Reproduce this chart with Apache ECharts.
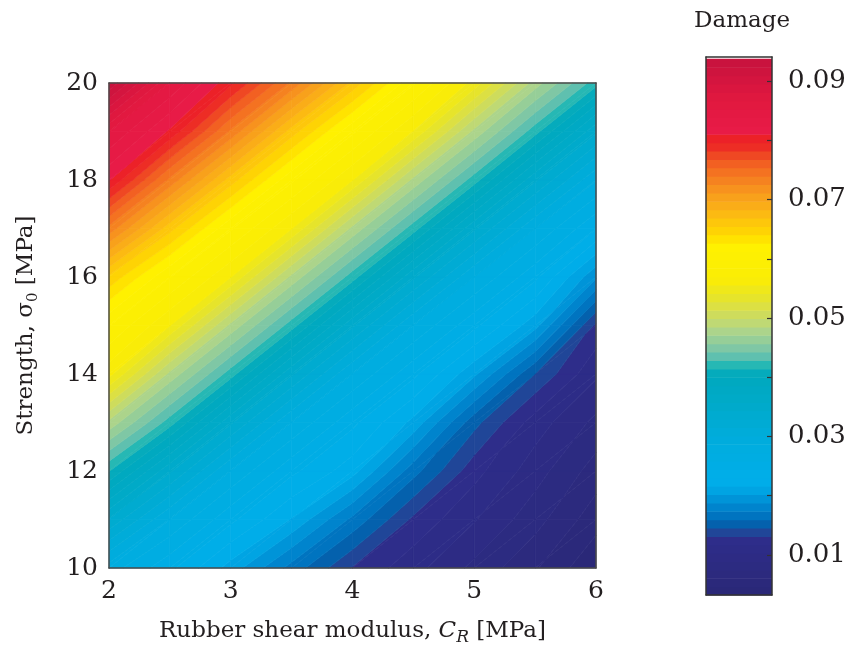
<!DOCTYPE html>
<html>
<head>
<meta charset="utf-8">
<script src="https://cdn.jsdelivr.net/npm/echarts@6/dist/echarts.min.js"></script>
<style>
  html, body { margin: 0; padding: 0; background: #ffffff; }
  #chart { width: 852px; height: 654px; }
</style>
</head>
<body>
<div id="chart"></div>
<script>
// Parameter grid: rubber shear modulus C_R [MPa] (columns) and strength sigma_0 [MPa] (rows)
const shearModulus = [2, 2.5, 3, 3.5, 4, 4.5, 5, 5.5, 6];
const strength = [10, 11, 12, 13, 14, 15, 16, 17, 18, 19, 20];

// Damage at every grid node, one array per strength level (columns follow shearModulus)
const damageS10 = [0.0280, 0.0248, 0.0210, 0.0168, 0.0130, 0.0108, 0.0085, 0.0062, 0.0034];
const damageS11 = [0.0342, 0.0286, 0.0248, 0.0215, 0.0170, 0.0128, 0.0104, 0.0080, 0.0052];
const damageS12 = [0.0415, 0.0346, 0.0286, 0.0248, 0.0222, 0.0165, 0.0122, 0.0095, 0.0068];
const damageS13 = [0.0481, 0.0421, 0.0346, 0.0286, 0.0248, 0.0212, 0.0150, 0.0110, 0.0085];
const damageS14 = [0.0561, 0.0481, 0.0421, 0.0346, 0.0286, 0.0248, 0.0205, 0.0145, 0.0105];
const damageS15 = [0.0599, 0.0556, 0.0481, 0.0421, 0.0346, 0.0286, 0.0248, 0.0207, 0.0128];
const damageS16 = [0.0652, 0.0599, 0.0556, 0.0481, 0.0421, 0.0346, 0.0287, 0.0248, 0.0190];
const damageS17 = [0.0735, 0.0660, 0.0600, 0.0556, 0.0481, 0.0421, 0.0346, 0.0287, 0.0245];
const damageS18 = [0.0812, 0.0736, 0.0662, 0.0601, 0.0556, 0.0481, 0.0421, 0.0346, 0.0288];
const damageS19 = [0.0854, 0.0808, 0.0737, 0.0662, 0.0601, 0.0555, 0.0481, 0.0420, 0.0346];
const damageS20 = [0.0936, 0.0852, 0.0800, 0.0737, 0.0665, 0.0600, 0.0550, 0.0478, 0.0420];
const damageRows = [damageS10, damageS11, damageS12, damageS13, damageS14, damageS15,
                    damageS16, damageS17, damageS18, damageS19, damageS20];

// Filled-contour levels and colour bar ticks
const levelMin = 0.0032;
const levelMax = 0.0938;
const levelCount = 64;
const barTickValues = [0.01, 0.02, 0.03, 0.04, 0.05, 0.06, 0.07, 0.08, 0.09];
const barLabelValues = [0.01, 0.03, 0.05, 0.07, 0.09];

// Colour map stops (damage value -> colour)
const cmapStops = [
  [0.0032, '#2a2877'], [0.0125, '#2e2d8a'], [0.0140, '#1e4a9a'], [0.0154, '#0064b0'],
  [0.0168, '#0076c2'], [0.0182, '#0086ce'], [0.0197, '#0096da'], [0.0211, '#00a6e4'],
  [0.0225, '#00aeea'], [0.0300, '#00acdc'], [0.0350, '#00aacb'], [0.0405, '#00a9bd'],
  [0.0420, '#20b7b4'], [0.0434, '#5cbfb0'], [0.0448, '#7cc6a6'], [0.0462, '#93cd9a'],
  [0.0476, '#a9d38e'], [0.0490, '#bdd878'], [0.0505, '#cddc5e'], [0.0520, '#dce044'],
  [0.0535, '#e6e42a'], [0.0550, '#f0e818'], [0.0565, '#faed05'], [0.0625, '#fff100'],
  [0.0639, '#ffdb00'], [0.0653, '#fecf06'], [0.0667, '#fdc20e'], [0.0682, '#fbb514'],
  [0.0696, '#f9a81a'], [0.0710, '#f89c1c'], [0.0724, '#f68c1f'], [0.0738, '#f57c20'],
  [0.0752, '#f36c21'], [0.0766, '#f15a22'], [0.0780, '#ee3e24'], [0.0795, '#ed2326'],
  [0.0809, '#ec1f2a'], [0.0816, '#e81b47'], [0.0870, '#e1183f'], [0.0938, '#c6123e']
];

const FONT = 'DejaVu Serif';
const TEXT = '#231f20';

function hexToRgb(h) {
  return [parseInt(h.slice(1, 3), 16), parseInt(h.slice(3, 5), 16), parseInt(h.slice(5, 7), 16)];
}
function cmap(v) {
  if (v <= cmapStops[0][0]) return cmapStops[0][1];
  for (let i = 1; i < cmapStops.length; i++) {
    if (v <= cmapStops[i][0]) {
      const a = cmapStops[i - 1], b = cmapStops[i];
      const t = (v - a[0]) / (b[0] - a[0]);
      const ca = hexToRgb(a[1]), cb = hexToRgb(b[1]);
      const c = ca.map((x, k) => Math.round(x + t * (cb[k] - x)));
      return 'rgb(' + c.join(',') + ')';
    }
  }
  return cmapStops[cmapStops.length - 1][1];
}

const levelStep = (levelMax - levelMin) / levelCount;
const levelEdges = [];
for (let k = 0; k <= levelCount; k++) levelEdges.push(levelMin + k * levelStep);
const bandColors = [];
for (let k = 0; k < levelCount; k++) bandColors.push(cmap(levelMin + (k + 0.5) * levelStep));

function bandOf(v) {
  const k = Math.floor((v - levelMin) / levelStep);
  return Math.max(0, Math.min(levelCount - 1, k));
}

// Sutherland-Hodgman clip of a polygon [x, y, value] against value >= / <= level
function clipPoly(poly, level, keepAbove) {
  const out = [];
  for (let i = 0; i < poly.length; i++) {
    const a = poly[i], b = poly[(i + 1) % poly.length];
    const ina = keepAbove ? a[2] >= level : a[2] <= level;
    const inb = keepAbove ? b[2] >= level : b[2] <= level;
    if (ina) out.push(a);
    if (ina !== inb) {
      const t = (level - a[2]) / (b[2] - a[2]);
      out.push([a[0] + t * (b[0] - a[0]), a[1] + t * (b[1] - a[1]), level]);
    }
  }
  return out;
}

// One data item per grid cell
const cellData = [];
for (let j = 0; j < strength.length - 1; j++) {
  for (let i = 0; i < shearModulus.length - 1; i++) cellData.push([i, j]);
}

function renderCell(params, api) {
  const i = api.value(0), j = api.value(1);
  const node = (ii, jj) => [shearModulus[ii], strength[jj], damageRows[jj][ii]];
  const p00 = node(i, j), p10 = node(i + 1, j), p11 = node(i + 1, j + 1), p01 = node(i, j + 1);
  const tris = [[p00, p10, p11], [p00, p11, p01]];
  const children = [];
  tris.forEach(tri => {
    const vals = tri.map(p => p[2]);
    const k0 = bandOf(Math.min.apply(null, vals));
    const k1 = bandOf(Math.max.apply(null, vals));
    for (let k = k0; k <= k1; k++) {
      const lo = k === 0 ? -Infinity : levelEdges[k];
      const hi = k === levelCount - 1 ? Infinity : levelEdges[k + 1];
      let poly = clipPoly(tri, lo, true);
      if (poly.length < 3) continue;
      poly = clipPoly(poly, hi, false);
      if (poly.length < 3) continue;
      const col = bandColors[k];
      children.push({
        type: 'polygon',
        shape: { points: poly.map(p => api.coord([p[0], p[1]])) },
        style: { fill: col, stroke: col, lineWidth: 0.7 },
        silent: true
      });
    }
  });
  return { type: 'group', children: children };
}

// Colour bar bands
const bandData = [];
for (let k = 0; k < levelCount; k++) bandData.push([k]);
function renderBand(params, api) {
  const k = api.value(0);
  const a = api.coord([0, levelEdges[k]]);
  const b = api.coord([1, levelEdges[k + 1]]);
  return {
    type: 'rect',
    shape: { x: a[0], y: b[1], width: b[0] - a[0], height: a[1] - b[1] + 0.6 },
    style: { fill: bandColors[k] },
    silent: true
  };
}

const frameLine = { show: true, onZero: false, lineStyle: { color: '#4a4a4a', width: 1.5 } };
const barFrame = { show: true, onZero: false, lineStyle: { color: '#333333', width: 1.5 } };
const hiddenLabel = { show: false };

const chart = echarts.init(document.getElementById('chart'), null, { renderer: 'canvas' });
chart.setOption({
  animation: false,
  backgroundColor: '#ffffff',
  title: {
    text: 'Damage',
    left: 689,
    top: 5,
    textStyle: { fontFamily: FONT, fontSize: 23, fontWeight: 'normal', color: TEXT }
  },
  grid: [
    { left: 109, top: 83, width: 487, height: 485 },
    { left: 706, top: 57, width: 66, height: 538 }
  ],
  xAxis: [
    {
      gridIndex: 0, type: 'value', min: 2, max: 6, interval: 1, position: 'bottom', z: 10,
      axisLine: frameLine, axisTick: { show: false }, splitLine: { show: false },
      axisLabel: { fontFamily: FONT, fontSize: 25, color: TEXT, margin: 11 },
      name: '{n|Rubber shear modulus, }{i|C}{s|R}{n| [MPa]}',
      nameLocation: 'middle', nameGap: 48,
      nameTextStyle: {
        fontFamily: FONT, fontSize: 23, color: TEXT,
        rich: {
          n: { fontFamily: FONT, fontSize: 23, color: TEXT, lineHeight: 30 },
          i: { fontFamily: FONT, fontSize: 23, color: TEXT, fontStyle: 'italic', lineHeight: 30 },
          s: { fontFamily: FONT, fontSize: 17, color: TEXT, fontStyle: 'italic', lineHeight: 16, verticalAlign: 'bottom' }
        }
      }
    },
    {
      gridIndex: 0, type: 'value', min: 2, max: 6, position: 'top', z: 10,
      axisLine: frameLine, axisTick: { show: false }, splitLine: { show: false }, axisLabel: hiddenLabel
    },
    {
      gridIndex: 1, type: 'value', min: 0, max: 1, position: 'bottom', z: 10,
      axisLine: barFrame, axisTick: { show: false }, splitLine: { show: false }, axisLabel: hiddenLabel
    },
    {
      gridIndex: 1, type: 'value', min: 0, max: 1, position: 'top', z: 10,
      axisLine: barFrame, axisTick: { show: false }, splitLine: { show: false }, axisLabel: hiddenLabel
    }
  ],
  yAxis: [
    {
      gridIndex: 0, type: 'value', min: 10, max: 20, interval: 2, position: 'left', z: 10,
      axisLine: frameLine, axisTick: { show: false }, splitLine: { show: false },
      axisLabel: { fontFamily: FONT, fontSize: 25, color: TEXT, margin: 11 },
      name: '{n|Strength, σ}{s|0}{n| [MPa]}',
      nameLocation: 'middle', nameGap: 68, nameRotate: 90,
      nameTextStyle: {
        fontFamily: FONT, fontSize: 23, color: TEXT,
        rich: {
          n: { fontFamily: FONT, fontSize: 23, color: TEXT, lineHeight: 30 },
          s: { fontFamily: FONT, fontSize: 15, color: TEXT, lineHeight: 15, verticalAlign: 'bottom' }
        }
      }
    },
    {
      gridIndex: 0, type: 'value', min: 10, max: 20, position: 'right', z: 10,
      axisLine: frameLine, axisTick: { show: false }, splitLine: { show: false }, axisLabel: hiddenLabel
    },
    {
      gridIndex: 1, type: 'value', min: levelMin, max: 0.0941, position: 'right', z: 10,
      axisLine: barFrame,
      axisTick: { show: true, inside: true, length: 5, customValues: barTickValues,
                  lineStyle: { color: '#333333', width: 1.2 } },
      splitLine: { show: false },
      axisLabel: {
        customValues: barLabelValues,
        formatter: v => v.toFixed(2),
        fontFamily: FONT, fontSize: 26, color: TEXT, margin: 16,
        padding: [0, 0, 10, 0]
      }
    },
    {
      gridIndex: 1, type: 'value', min: levelMin, max: 0.0941, position: 'left', z: 10,
      axisLine: barFrame, axisTick: { show: false }, splitLine: { show: false }, axisLabel: hiddenLabel
    }
  ],
  series: [
    {
      type: 'custom', xAxisIndex: 0, yAxisIndex: 0, z: 2,
      data: cellData, renderItem: renderCell, silent: true
    },
    {
      type: 'custom', xAxisIndex: 2, yAxisIndex: 2, z: 2,
      data: bandData, renderItem: renderBand, silent: true
    }
  ]
});
</script>
</body>
</html>
